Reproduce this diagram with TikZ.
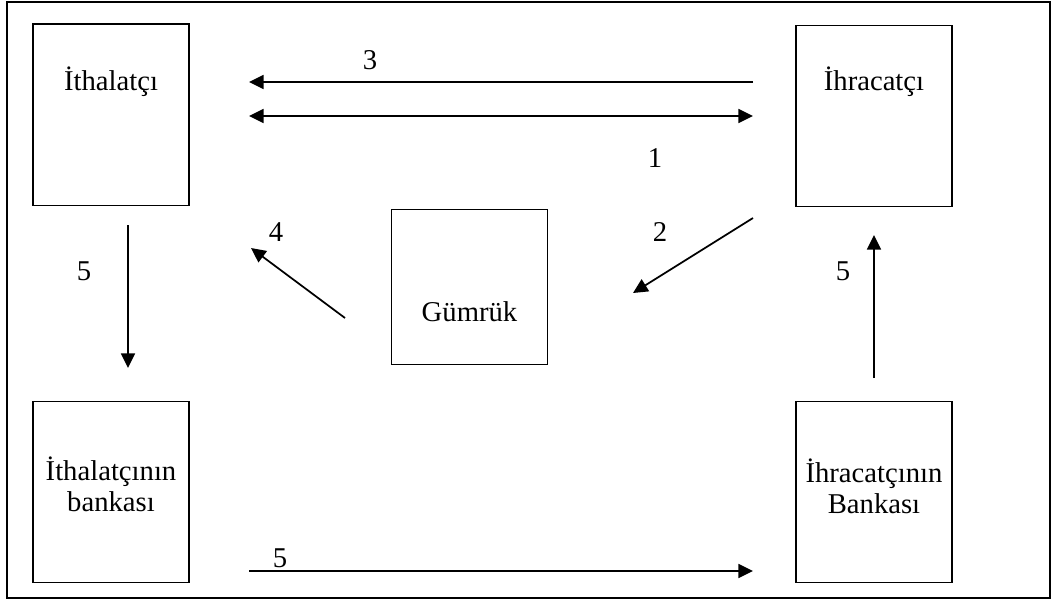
\documentclass[tikz,border=0pt]{standalone}
\usepackage{fontspec}
\setmainfont{Liberation Serif}
\usetikzlibrary{arrows.meta}
\begin{document}
\begin{tikzpicture}[x=0.75pt,y=-0.75pt,
  box/.style={draw,line width=1pt,minimum width=117pt,minimum height=136pt,inner sep=0pt},
  txt/.style={font=\fontsize{21.5}{23.5}\selectfont,align=center,inner sep=0pt},
  num/.style={font=\fontsize{21.5}{23.5}\selectfont,inner sep=0pt},
  flow/.style={line width=1.3pt,-{Triangle[length=11pt,width=10.5pt]}},
  both/.style={line width=1.3pt,{Triangle[length=11pt,width=10.5pt]}-{Triangle[length=11pt,width=10.5pt]}}]
\useasboundingbox (0,0) rectangle (1055,603);
% outer frame
\draw[line width=1.3pt] (7,2) rectangle (1050,598);

% boxes
\node[box] (imp)  at (111,114.5) {};
\node[box] (exp)  at (874,116) {};
\node[box,minimum height=116pt] (gum) at (469.5,287) {};
\node[box] (impb) at (111,492) {};
\node[box] (expb) at (874,492) {};

% box captions
\node[txt] at (111,82) {İthalatçı};
\node[txt] at (874,82) {İhracatçı};
\node[txt] at (469.5,312) {Gümrük};
\node[txt] at (111,484) {İthalatçının\\bankası};
\node[txt] at (874,486) {İhracatçının\\Bankası};

% arrow end points
\coordinate (a3s) at (753,82);
\coordinate (a3e) at (249,82);
\coordinate (a1s) at (249,116);
\coordinate (a1e) at (753,116);
\coordinate (a2s) at (753,218);
\coordinate (a2e) at (633,293);
\coordinate (a4s) at (345,318);
\coordinate (a4e) at (251,248);
\coordinate (a5as) at (128,225);
\coordinate (a5ae) at (128,368);
\coordinate (a5bs) at (874,378);
\coordinate (a5be) at (874,235);
\coordinate (a5cs) at (249,571);
\coordinate (a5ce) at (753,571);

% flows
\draw[flow] (a3s) -- (a3e);
\draw[both] (a1s) -- (a1e);
\draw[flow] (a2s) -- (a2e);
\draw[flow] (a4s) -- (a4e);
\draw[flow] (a5as) -- (a5ae);
\draw[flow] (a5bs) -- (a5be);
\draw[flow] (a5cs) -- (a5ce);

% step numbers
\node[num] (n3) at (370,60) {3};
\node[num] (n1) at (655,158) {1};
\node[num] (n2) at (660,232) {2};
\node[num] (n4) at (276,232) {4};
\node[num] (n5a) at (84,271) {5};
\node[num] (n5b) at (843,271) {5};
\node[num] (n5c) at (280,558) {5};
\end{tikzpicture}
\end{document}
